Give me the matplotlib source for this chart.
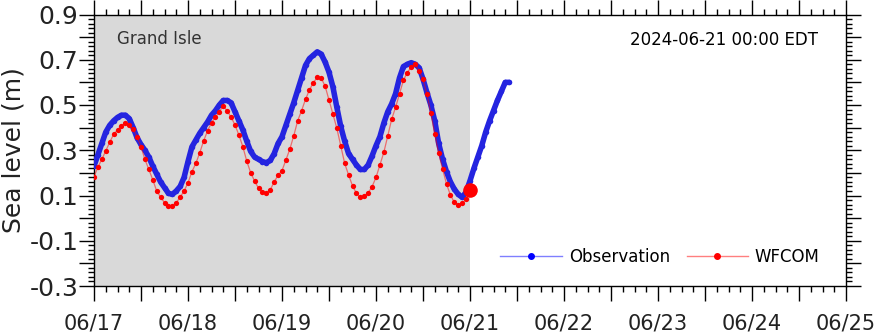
import matplotlib
matplotlib.use("Agg")
import matplotlib.pyplot as plt
import matplotlib.dates as mdates
from matplotlib.lines import Line2D
from matplotlib.ticker import MultipleLocator
import pandas as pd

# Hourly observed water level at Grand Isle (m), starting 2024-06-17 00:00
obs_level = [
    0.23, 0.28, 0.33, 0.38, 0.41, 0.43, 0.445, 0.455, 0.455, 0.44,
    0.40, 0.355, 0.325, 0.30, 0.27, 0.23, 0.195, 0.16, 0.135, 0.11,
    0.105, 0.12, 0.14, 0.18, 0.25, 0.315, 0.345, 0.375, 0.40, 0.425,
    0.455, 0.475, 0.50, 0.52, 0.52, 0.51, 0.47, 0.43, 0.39, 0.34,
    0.295, 0.27, 0.26, 0.25, 0.245, 0.255, 0.285, 0.33, 0.36, 0.41,
    0.46, 0.51, 0.565, 0.62, 0.675, 0.705, 0.72, 0.735, 0.725, 0.69,
    0.645, 0.58, 0.49, 0.405, 0.34, 0.285, 0.26, 0.235, 0.215, 0.215,
    0.235, 0.275, 0.32, 0.36, 0.42, 0.47, 0.505, 0.55, 0.62, 0.67,
    0.68, 0.687, 0.68, 0.665, 0.615, 0.555, 0.50, 0.43, 0.33, 0.26,
    0.205, 0.16, 0.128, 0.105, 0.092, 0.115, 0.165, 0.22, 0.27, 0.32,
    0.38, 0.43, 0.475, 0.52, 0.56, 0.60, 0.60,
]

# Hourly WFCOM model water level (m), 2024-06-17 00:00 to 2024-06-21 00:00
model_level = [
    0.183, 0.225, 0.26, 0.297, 0.335, 0.37, 0.39, 0.407, 0.422, 0.41,
    0.393, 0.36, 0.315, 0.26, 0.215, 0.17, 0.12, 0.093, 0.068, 0.055,
    0.055, 0.068, 0.093, 0.12, 0.156, 0.205, 0.242, 0.289, 0.342, 0.386,
    0.422, 0.446, 0.471, 0.496, 0.474, 0.446, 0.412, 0.367, 0.316, 0.252,
    0.201, 0.164, 0.132, 0.115, 0.112, 0.125, 0.16, 0.19, 0.21, 0.257,
    0.305, 0.364, 0.43, 0.475, 0.525, 0.566, 0.599, 0.622, 0.619, 0.584,
    0.522, 0.46, 0.397, 0.32, 0.242, 0.191, 0.143, 0.11, 0.092, 0.098,
    0.112, 0.139, 0.18, 0.235, 0.291, 0.363, 0.437, 0.49, 0.549, 0.61,
    0.643, 0.669, 0.68, 0.652, 0.614, 0.549, 0.463, 0.372, 0.287, 0.217,
    0.151, 0.102, 0.07, 0.06, 0.066, 0.083, 0.124,
]

station_name = "Grand Isle"
nowcast_label = "2024-06-21 00:00 EDT"
start_time = "2024-06-17 00:00"
nowcast_time = "2024-06-21 00:00"
end_time = "2024-06-25 00:00"
y_ticks = [-0.3, -0.1, 0.1, 0.3, 0.5, 0.7, 0.9]

obs_time = pd.date_range(start_time, periods=len(obs_level), freq="h")
model_time = pd.date_range(start_time, periods=len(model_level), freq="h")
t0, tn, t1 = (pd.Timestamp(s) for s in (start_time, nowcast_time, end_time))

fig = plt.figure(figsize=(8.76, 3.34), dpi=100)
ax = fig.add_axes([94 / 876, 1 - 286 / 334, 752 / 876, 271.5 / 334])

# hindcast period shading
ax.axvspan(t0, tn, color="#d9d9d9", lw=0, zorder=0)

obs_color = "#2424e0"
ax.plot(obs_time, obs_level, color=obs_color, lw=4.0, solid_capstyle="round",
        solid_joinstyle="round", zorder=3)
ax.plot(obs_time, obs_level, ls="none", marker="o", ms=4.0, color=obs_color,
        mec="none", zorder=3)

ax.plot(model_time, model_level, color=(1, 0, 0, 0.5), lw=0.9, zorder=4)
ax.plot(model_time, model_level, ls="none", marker="o", ms=3.8, color="red",
        mec="none", zorder=4)
ax.plot([model_time[-1]], [model_level[-1]], ls="none", marker="o", ms=10.5,
        color="red", mec="none", zorder=5)

ax.set_xlim(t0, t1)
ax.set_ylim(-0.3, 0.9)

ax.xaxis.set_major_locator(mdates.HourLocator(byhour=[0, 12]))
ax.xaxis.set_minor_locator(mdates.HourLocator(byhour=range(0, 24, 3)))
day_fmt = mdates.DateFormatter("%m/%d")
ax.xaxis.set_major_formatter(
    matplotlib.ticker.FuncFormatter(
        lambda v, p: day_fmt(v, p) if mdates.num2date(v).hour == 0 else ""))

ax.yaxis.set_major_locator(MultipleLocator(0.1))
ax.yaxis.set_minor_locator(MultipleLocator(0.02))
ax.yaxis.set_major_formatter(
    matplotlib.ticker.FuncFormatter(
        lambda v, p: (f"{v:.1f}" if any(abs(v - t) < 1e-6 for t in y_ticks) else "")))

ax.tick_params(axis="both", which="both", direction="out", top=True, right=True,
               width=1.0, color="black")
ax.tick_params(axis="both", which="major", length=10.5)
ax.tick_params(axis="both", which="minor", length=4.5)
ax.tick_params(axis="x", which="major", labelsize=15, pad=9.5, labelcolor="#222222")
ax.tick_params(axis="y", which="major", labelsize=18, pad=0.8, labelcolor="#222222")
for s in ax.spines.values():
    s.set_linewidth(1.0)

ax.set_ylabel("Sea level (m)", fontsize=18, color="#222222")
ax.yaxis.set_label_coords(-0.091, 0.5)

ax.text(0.0306, 0.891, station_name, transform=ax.transAxes, fontsize=12,
        color="#333333", ha="left", va="baseline")
ax.text(0.9628, 0.887, nowcast_label, transform=ax.transAxes, fontsize=12,
        color="black", ha="right", va="baseline")

handles = [
    Line2D([], [], color=(0, 0, 1, 0.5), lw=1, marker="o", ms=4,
           mfc="blue", mec="blue", label="Observation"),
    Line2D([], [], color=(1, 0, 0, 0.5), lw=1, marker="o", ms=4,
           mfc="red", mec="red", label="WFCOM"),
]
ax.legend(handles=handles, loc="lower right", bbox_to_anchor=(0.985, 0.02),
          ncol=2, frameon=False, fontsize=12, handlelength=3.7,
          handletextpad=0.4, columnspacing=1.0)

fig.savefig("out.png", dpi=100)
